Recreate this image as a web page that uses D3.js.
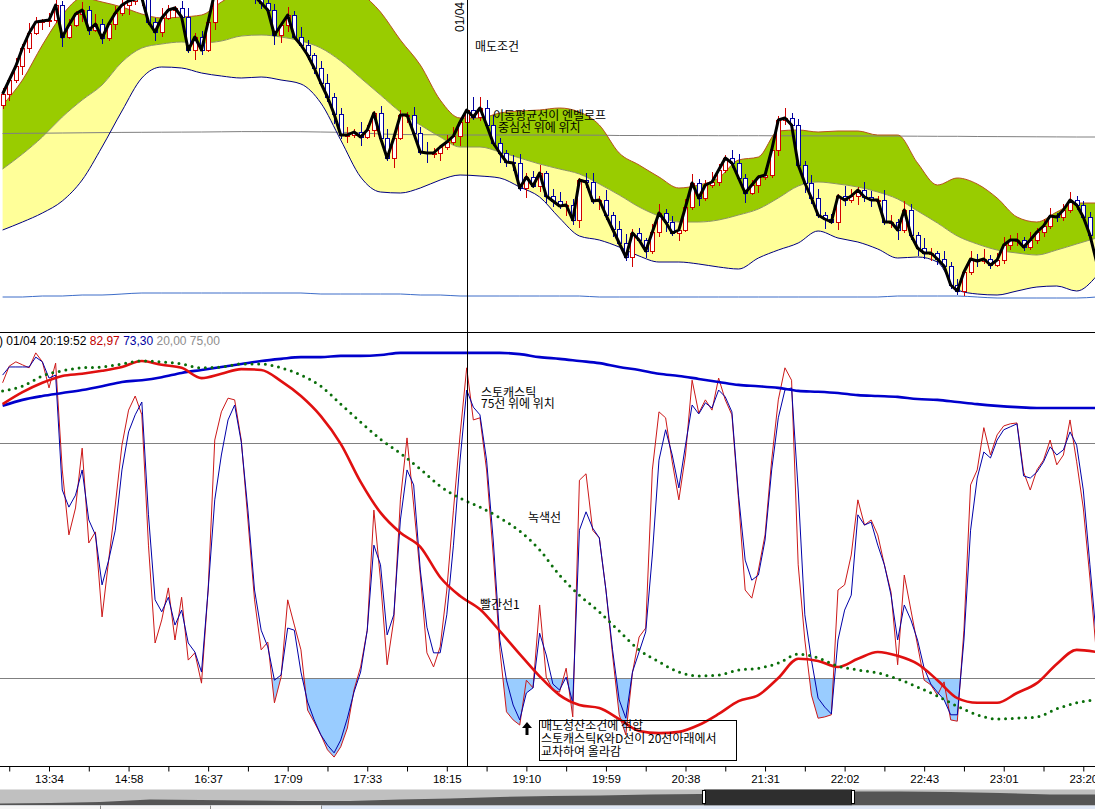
<!DOCTYPE html>
<html>
<head>
<meta charset="utf-8">
<script src="https://cdn.jsdelivr.net/npm/d3@7"></script>
<style>
html, body { margin: 0; padding: 0; background: #fff; overflow: hidden; }
svg { display: block; }
text { font-family: "Liberation Sans", Arial, sans-serif; }
.ko { font-family: "Noto Sans CJK KR", "Noto Sans", sans-serif; font-size: 12px; fill: #000; }
</style>
</head>
<body>
<svg id="chart" width="1095" height="809"></svg>
<script>
// x axis labels (one every 12 bars, starting at bar 7)
const timeLabels = ["13:34", "14:58", "16:37", "17:09", "17:33", "18:15", "19:10",
  "19:59", "20:38", "21:31", "22:02", "22:43", "23:01", "23:20"];

// price candles, one per bar
const candleOpen = [295,306,320,334,352,367,378,379,380,395,363,375,386,390,370,376,362,376,387,395,
  399,401,402,378,368,382,390,392,383,350,363,350,378,408,420,425,425,420,412,404,
  397,390,365,375,385,363,355,345,332,317,303,286,265,265,268,263,270,287,262,242,
  262,285,285,267,248,247,247,253,258,264,278,290,283,292,275,257,247,238,237,212,
  223,214,227,204,199,194,195,180,220,218,199,200,185,171,157,143,167,160,149,168,
  187,178,167,170,193,217,202,215,218,230,242,237,222,207,215,223,225,250,280,282,
  275,235,217,202,185,181,178,204,200,204,210,203,200,200,178,178,170,190,165,152,
  147,147,141,134,115,109,128,141,139,141,135,140,155,160,160,153,160,168,174,184,
  183,190,200,195,183,165];
const candleHigh = [312,323,342,356,377,383,381,387,404,399,381,389,398,394,386,381,378,394,404,403,
  407,405,410,382,392,395,394,399,392,367,369,381,416,425,435,430,427,429,416,414,
  400,396,378,393,389,373,360,347,339,326,307,292,273,271,278,275,289,294,271,266,
  290,288,293,273,258,252,255,265,273,282,296,303,303,300,285,262,250,245,246,227,
  229,235,229,211,208,199,201,222,227,227,204,210,188,179,166,171,172,162,176,196,
  191,184,173,201,226,221,220,228,236,245,250,246,226,220,225,232,258,284,292,287,
  281,239,225,211,188,186,206,214,211,213,218,209,204,210,185,181,199,196,168,162,
  152,149,149,138,121,131,149,146,151,145,147,163,165,167,163,168,172,181,192,187,
  196,208,204,199,188,168];
const candleLow = [291,299,317,325,347,365,370,373,377,353,361,373,378,365,368,356,359,370,384,385,
  395,394,375,359,363,380,382,377,347,340,345,348,370,402,417,416,415,410,396,391,
  387,355,357,368,361,352,340,326,314,298,276,261,257,262,254,261,263,256,239,232,
  260,277,261,245,237,242,239,250,255,254,274,280,279,270,254,237,233,229,209,202,
  212,208,197,193,191,184,175,172,212,196,190,180,163,154,139,133,158,142,146,163,
  168,164,159,168,190,194,199,212,214,227,232,219,197,205,207,220,222,244,275,267,
  232,207,196,182,171,176,170,194,197,195,198,193,194,175,172,160,167,160,144,141,
  139,135,131,111,105,104,125,133,136,131,133,136,150,154,149,150,156,163,171,178,
  179,187,190,179,161,132];
const candleClose = [306,320,334,352,367,378,379,380,395,363,375,386,390,370,376,362,376,387,395,399,
  401,402,378,368,382,390,392,383,350,363,350,378,408,420,425,425,420,412,404,397,
  390,365,375,385,363,355,345,332,317,303,286,265,265,268,263,270,287,262,242,262,
  285,285,267,248,247,247,253,258,264,278,290,283,292,275,257,247,238,237,212,223,
  214,227,204,199,194,195,180,220,218,199,200,185,171,157,143,167,160,149,168,187,
  178,167,170,193,217,202,215,218,230,242,237,222,207,215,223,225,250,280,282,275,
  235,217,202,185,181,178,204,200,204,210,203,200,200,178,178,170,190,165,152,147,
  147,141,134,115,109,128,141,139,141,135,140,155,160,160,153,160,168,174,184,183,
  190,200,195,183,165,138];

// smooth indicators, one value every BAND_STEP bars
const BAND_STEP = 3;
const envUpper = [295,320,355,385,402,398,393,386,382,383,385,398,410,420,428,432,432,428,408,388,
  360,335,300,282,282,287,289,290,292,288,275,247,235,223,212,215,222,240,243,269,
  270,268,269,269,265,265,237,215,222,216,202,183,178,188,197,197];
const envMid = [231,246,263,283,300,315,338,352,356,358,357,359,364,365,363,359,352,339,322,305,
  288,275,263,253,253,248,242,236,231,226,216,205,193,184,178,178,180,185,191,202,
  214,218,216,213,208,201,189,177,164,156,150,147,145,150,156,162];
const envLower = [170,178,187,199,220,253,289,322,333,332,327,324,322,323,320,316,297,260,223,208,
  207,212,220,225,224,222,213,203,182,164,160,153,144,138,138,136,133,131,142,150,
  157,169,162,158,151,142,143,138,110,106,105,109,113,114,109,124];
const longLine = [103,103,104,104,105,105,106,107,107,107,107,107,107,107,107,107,106,106,106,106,
  106,105,105,104,104,104,104,104,104,104,103,103,103,103,103,103,103,103,103,103,
  103,103,103,103,103,104,104,104,104,103,102,102,102,102,102,103];
const refLine = [266.5,266.7,266.8,267,267.2,267.4,267.6,267.7,267.8,267.9,268,268.2,268.4,268.4,268.4,268.3,268,267.7,267.2,266,
  265.5,265.3,265.2,265,265,265,265,265,265,264.9,264.8,264.5,264.5,264.4,264.4,264.4,264.3,264.3,264.3,264.2,
  264.2,264.1,264.1,264,264,263.9,263.8,263.7,263.7,263.5,263.4,263.3,263.2,263.1,263,263];

// stochastic, one value per bar
const stochK = [89.1,93.0,94.0,93.3,92.6,96.1,94.0,87.9,93.7,68.7,53.5,59.8,73.8,51.6,54.2,34.3,47.6,60.5,74.5,82.7,
  86.0,81.6,51.1,28.2,33.6,41.1,28.9,38.9,24.2,25.9,18.8,40.6,75.7,82.3,85.5,85.1,75.7,57.0,38.3,26.6,
  28.4,14.2,20.2,38.3,32.4,26.6,12.5,9.7,6.7,3.2,1.5,3.9,8.3,17.2,22.6,31.2,59.3,42.9,23.1,33.6,
  61.7,76.2,60.5,44.1,25.9,22.6,27.3,40.6,59.3,76.9,92.6,80.4,80.9,68.7,48.8,26.6,12.1,10.2,9.0,19.5,
  17.7,37.1,20.2,17.2,16.7,22.3,10.9,66.3,67.8,54.6,52.8,40.6,25.4,11.4,6.7,21.2,29.6,31.7,68.7,82.3,
  80.9,70.6,61.7,72.2,89.7,82.0,85.1,82.7,90.2,85.1,81.6,61.7,40.6,38.7,45.3,53.5,71.0,85.1,92.6,89.7,
  46.5,28.9,16.0,10.6,10.9,11.4,40.6,41.8,48.8,61.7,55.8,57.0,53.5,46.5,40.1,23.1,44.1,35.9,27.7,19.5,
  18.4,16.0,19.1,10.2,9.9,31.2,65.2,68.7,78.6,72.2,76.9,79.0,79.5,79.7,68.2,64.0,68.7,71.0,75.7,69.9,
  72.2,80.4,70.6,59.8,43.4,25.4];
const stochD = [90.9,92.8,92.8,92.8,92.8,95.1,94.0,90.2,90.9,64.0,60.0,62.8,68.7,57.0,53.5,41.8,47.6,54.6,68.7,77.6,
  81.6,84.6,58.2,38.3,35.5,38.9,32.4,35.9,28.2,26.1,21.4,40.6,61.7,72.2,80.4,83.9,75.2,59.3,40.6,31.2,
  27.3,19.5,20.7,31.7,31.2,21.4,14.4,10.2,6.7,4.3,2.5,5.5,10.6,16.7,21.4,31.2,51.1,46.5,30.1,34.8,
  57.0,68.7,65.2,45.3,31.9,25.9,25.9,34.8,51.1,71.0,87.4,83.4,81.6,71.0,52.3,28.9,19.5,13.7,10.2,16.5,
  17.7,30.5,25.4,18.6,17.2,20.2,14.2,54.6,58.9,55.1,52.8,40.6,26.6,14.9,10.6,21.4,26.1,30.8,48.8,71.0,
  78.1,72.2,64.5,74.5,83.9,81.8,84.4,83.2,87.4,85.8,82.3,62.8,47.6,42.9,44.1,52.3,68.7,80.9,87.4,87.9,
  64.0,34.8,24.2,15.3,13.2,11.6,28.9,35.9,39.4,58.2,55.8,56.5,51.1,46.5,39.4,28.9,37.1,33.6,28.9,22.3,
  18.6,16.7,14.9,11.4,11.4,28.9,54.6,66.8,72.9,71.5,75.7,78.1,78.8,79.5,67.3,66.8,68.2,70.6,74.1,72.2,
  73.4,77.6,74.5,64.0,46.5,28.9];

// slow lines in the lower panel, one value every BAND_STEP bars
const signalBlue = [83.7,85.1,86.0,86.7,87.4,88.3,89.3,89.7,90.4,91.4,92.1,92.8,93.5,94.2,94.7,95.1,95.1,95.4,95.4,95.6,
  96.1,96.1,96.1,96.1,96.1,96.1,95.8,95.1,94.7,94.2,93.7,92.8,92.1,91.2,90.7,90.0,89.3,88.6,88.3,87.9,
  87.2,87.0,86.7,86.2,86.0,85.8,85.3,85.1,84.6,84.1,83.7,83.4,83.2,83.2,83.2,83.2];
const signalRed = [84.1,86.9,89.1,90.7,91.2,91.9,92.8,94.2,93.3,92.6,90.2,91.2,92.3,92.1,89.5,86.0,81.3,74.8,65.9,58.7,
  54.0,50.7,43.6,39.2,36.1,31.0,25.6,20.4,16.0,13.7,13.0,10.4,7.6,7.1,7.4,9.0,11.6,14.6,16.0,20.0,
  24.5,24.0,22.6,24.5,26.1,25.2,23.3,19.5,15.3,14.2,14.2,16.5,18.8,23.3,26.6,26.1];
const greenLine = [87.2,88.3,90.7,91.9,92.6,92.8,93.5,94.2,94.0,93.5,92.6,92.8,93.5,93.5,92.6,90.9,88.3,84.1,79.9,75.9,
  72.6,68.9,64.9,62.1,60.0,57.5,54.4,50.0,44.1,39.4,35.5,31.0,26.6,23.8,21.4,20.5,20.7,21.9,22.3,23.5,
  25.6,24.7,22.8,21.9,21.2,19.8,17.9,15.8,13.4,11.4,10.4,10.6,10.9,12.8,14.2,14.9];

// navigator strip silhouette
const navVolume = [2,2.5,3.5,6,5.5,5,4.5,4.5,6,7,8.5,9.5,10,11,11.5,12,13,14,14,13.5,12.5,11,11];

const W = 1095, H = 809;
const svg = d3.select("#chart");
const nBars = candleClose.length;

const x = d3.scaleLinear().domain([0, 165]).range([2.6, 1096.55]);
const yTop = d3.scaleLinear().domain([68, 400]).range([332, 0]);
const yBot = d3.scaleLinear().domain([0, 100]).range([763.5, 336.2]);
const xb = (d, j) => x(j * BAND_STEP);

const defs = svg.append("defs");
defs.append("clipPath").attr("id", "clipTop")
  .append("rect").attr("x", 0).attr("y", 0).attr("width", W).attr("height", 332);
defs.append("clipPath").attr("id", "clipBot")
  .append("rect").attr("x", 0).attr("y", 333).attr("width", W).attr("height", 433);
defs.append("clipPath").attr("id", "clip20")
  .append("rect").attr("x", 0).attr("y", yBot(20)).attr("width", W).attr("height", yBot(0) - yBot(20) + 10);

// ---------- upper panel ----------
const gTop = svg.append("g").attr("clip-path", "url(#clipTop)");

const bandArea = (lowArr) => d3.area()
  .x(xb).y0((d, j) => yTop(lowArr[j])).y1(d => yTop(d))
  .curve(d3.curveMonotoneX);
const bandLine = d3.line().x(xb).y(d => yTop(d)).curve(d3.curveMonotoneX);

gTop.append("path").datum(envUpper).attr("d", bandArea(envMid)).attr("fill", "#99cc00");
gTop.append("path").datum(envMid).attr("d", bandArea(envLower)).attr("fill", "#ffff99");

gTop.append("path").datum(refLine).attr("d", bandLine)
  .attr("fill", "none").attr("stroke", "#808080").attr("stroke-width", 1);
gTop.append("path").datum(longLine).attr("d", bandLine)
  .attr("fill", "none").attr("stroke", "#3c6cc8").attr("stroke-width", 1);
gTop.append("path").datum(envUpper).attr("d", bandLine)
  .attr("fill", "none").attr("stroke", "#b8501e").attr("stroke-width", 1);
gTop.append("path").datum(envMid).attr("d", bandLine)
  .attr("fill", "none").attr("stroke", "#8b9460").attr("stroke-width", 1);
gTop.append("path").datum(envLower).attr("d", bandLine)
  .attr("fill", "none").attr("stroke", "#000080").attr("stroke-width", 1);

const candles = gTop.append("g").selectAll("g")
  .data(d3.range(nBars))
  .join("g")
  .attr("stroke", i => candleClose[i] >= candleOpen[i] ? "#d00000" : "#0000a0");
candles.append("line")
  .attr("x1", i => Math.round(x(i)) + 0.5).attr("x2", i => Math.round(x(i)) + 0.5)
  .attr("y1", i => yTop(candleHigh[i])).attr("y2", i => yTop(candleLow[i]));
candles.append("rect")
  .attr("x", i => Math.round(x(i)) - 1.5)
  .attr("width", 4)
  .attr("y", i => Math.round(yTop(Math.max(candleOpen[i], candleClose[i]))) + 0.5)
  .attr("height", i => Math.max(1, Math.round(Math.abs(yTop(candleOpen[i]) - yTop(candleClose[i])))))
  .attr("fill", "#fff");

gTop.append("path").datum(candleClose)
  .attr("d", d3.line().x((d, i) => x(i)).y(d => yTop(d)))
  .attr("fill", "none").attr("stroke", "#000").attr("stroke-width", 3)
  .attr("stroke-linejoin", "round");

// ---------- lower panel ----------
const gBot = svg.append("g").attr("clip-path", "url(#clipBot)");

const under20 = gBot.append("g").attr("clip-path", "url(#clip20)");
const area20 = d3.area().x((d, i) => x(i)).y0(yBot(20)).y1(d => yBot(d));
under20.append("path").datum(stochK).attr("d", area20).attr("fill", "#99ccff");
under20.append("path").datum(stochD).attr("d", area20).attr("fill", "#99ccff");

[75, 20].forEach(v => {
  gBot.append("line").attr("x1", 0).attr("x2", W)
    .attr("y1", Math.round(yBot(v)) + 0.5).attr("y2", Math.round(yBot(v)) + 0.5)
    .attr("stroke", "#808080");
});

const stochLine = d3.line().x((d, i) => x(i)).y(d => yBot(d));
gBot.append("path").datum(stochK).attr("d", stochLine)
  .attr("fill", "none").attr("stroke", "#cc1818").attr("stroke-width", 1);
gBot.append("path").datum(stochD).attr("d", stochLine)
  .attr("fill", "none").attr("stroke", "#0000a8").attr("stroke-width", 1);

const slowLine = d3.line().x(xb).y(d => yBot(d)).curve(d3.curveMonotoneX);
gBot.append("path").datum(signalBlue).attr("d", slowLine)
  .attr("fill", "none").attr("stroke", "#0000cc").attr("stroke-width", 2.6);
gBot.append("path").datum(signalRed).attr("d", slowLine)
  .attr("fill", "none").attr("stroke", "#e01010").attr("stroke-width", 2.6);
gBot.append("path").datum(greenLine).attr("d", slowLine)
  .attr("fill", "none").attr("stroke", "#0a6e0a").attr("stroke-width", 3)
  .attr("stroke-linecap", "round").attr("stroke-dasharray", "0 6.7");

// panel separator and crosshair
svg.append("line").attr("x1", 0).attr("x2", W).attr("y1", 332.5).attr("y2", 332.5)
  .attr("stroke", "#000");
svg.append("line").attr("x1", Math.round(x(70)) + 0.5).attr("x2", Math.round(x(70)) + 0.5)
  .attr("y1", 0).attr("y2", 767).attr("stroke", "#000");
svg.append("text").attr("transform", "translate(464,32) rotate(-90)")
  .attr("font-size", 12).text("01/04");

// header values of the lower panel
const hdr = svg.append("text").attr("x", -1).attr("y", 344.5).attr("font-size", 12);
hdr.append("tspan").attr("fill", "#000").text(") 01/04 20:19:52 ");
hdr.append("tspan").attr("fill", "#c00000").text("82,97 ");
hdr.append("tspan").attr("fill", "#0000a0").text("73,30 ");
hdr.append("tspan").attr("fill", "#8c8c8c").text("20,00 75,00");

// ---------- x axis ----------
const axis = d3.axisBottom(x)
  .tickValues(d3.range(1, nBars, 6))
  .tickSize(5).tickSizeOuter(0).tickPadding(3)
  .tickFormat(t => (t - 7) % 12 === 0 ? timeLabels[(t - 7) / 12] : "");
const gAx = svg.append("g").attr("transform", "translate(0,766.5)").call(axis);
gAx.select(".domain").remove();
gAx.attr("font-family", "Liberation Sans, Arial, sans-serif").attr("font-size", 11.5);
gAx.selectAll("line").attr("stroke", "#000");
gAx.selectAll("text").attr("fill", "#000");
svg.append("line").attr("x1", 0).attr("x2", W).attr("y1", 766.5).attr("y2", 766.5).attr("stroke", "#000");

// ---------- annotations ----------
const note = (tx, ty, s) => svg.append("text").attr("class", "ko").attr("x", tx).attr("y", ty).text(s);
note(475, 50.5, "매도조건");
note(493, 119.5, "이동평균선이 엔벨로프");
note(498, 131.5, "중심선 위에 위치");
note(481, 396.5, "스토캐스틱");
note(481, 408, "75선 위에 위치");
note(528, 521.5, "녹색선");
note(480, 608.5, "빨간선1");

svg.append("rect").attr("x", 539.5).attr("y", 720.5).attr("width", 197).attr("height", 40)
  .attr("fill", "none").attr("stroke", "#000");
note(541, 729.5, "매도청산조건에 적합");
note(541, 743, "스토캐스틱K와D선이 20선아래에서");
note(541, 755.5, "교차하여 올라감");
svg.append("path")
  .attr("d", "M527,722 L532,728 L528.5,728 L528.5,735 L525.5,735 L525.5,728 L522,728 Z")
  .attr("fill", "#000");

// ---------- navigator strip ----------
const navTop = 789.5, navBottom = 805.5;
svg.append("rect").attr("x", 0).attr("y", navTop).attr("width", W).attr("height", navBottom - navTop)
  .attr("fill", "#c0c0c0");
const xNav = d3.scaleLinear().domain([0, navVolume.length - 1]).range([0, 1100]);
const yNav = d3.scaleLinear().domain([0, 16]).range([navBottom, navTop]);
svg.append("path").datum(navVolume)
  .attr("d", d3.area().x((d, i) => xNav(i)).y0(navBottom).y1(d => yNav(d)))
  .attr("fill", "#555");
svg.append("rect").attr("x", 704).attr("y", navTop).attr("width", 148).attr("height", navBottom - navTop)
  .attr("fill", "#2e2e2e");
[702.5, 851.5].forEach(hx => {
  svg.append("rect").attr("x", hx).attr("y", navTop + 1).attr("width", 3).attr("height", 13)
    .attr("fill", "#fff").attr("stroke", "#000").attr("stroke-width", 1);
});

// bottom tab row
svg.append("rect").attr("x", 0).attr("y", navBottom).attr("width", W).attr("height", H - navBottom)
  .attr("fill", "#dfe7f5");
svg.append("rect").attr("x", 0).attr("y", navBottom).attr("width", 321).attr("height", H - navBottom)
  .attr("fill", "#f6f6f6");
[100.5, 210.5, 321.5].forEach(sx => {
  svg.append("line").attr("x1", sx).attr("x2", sx).attr("y1", navBottom).attr("y2", H)
    .attr("stroke", "#8a8a8a");
});
</script>
</body>
</html>
